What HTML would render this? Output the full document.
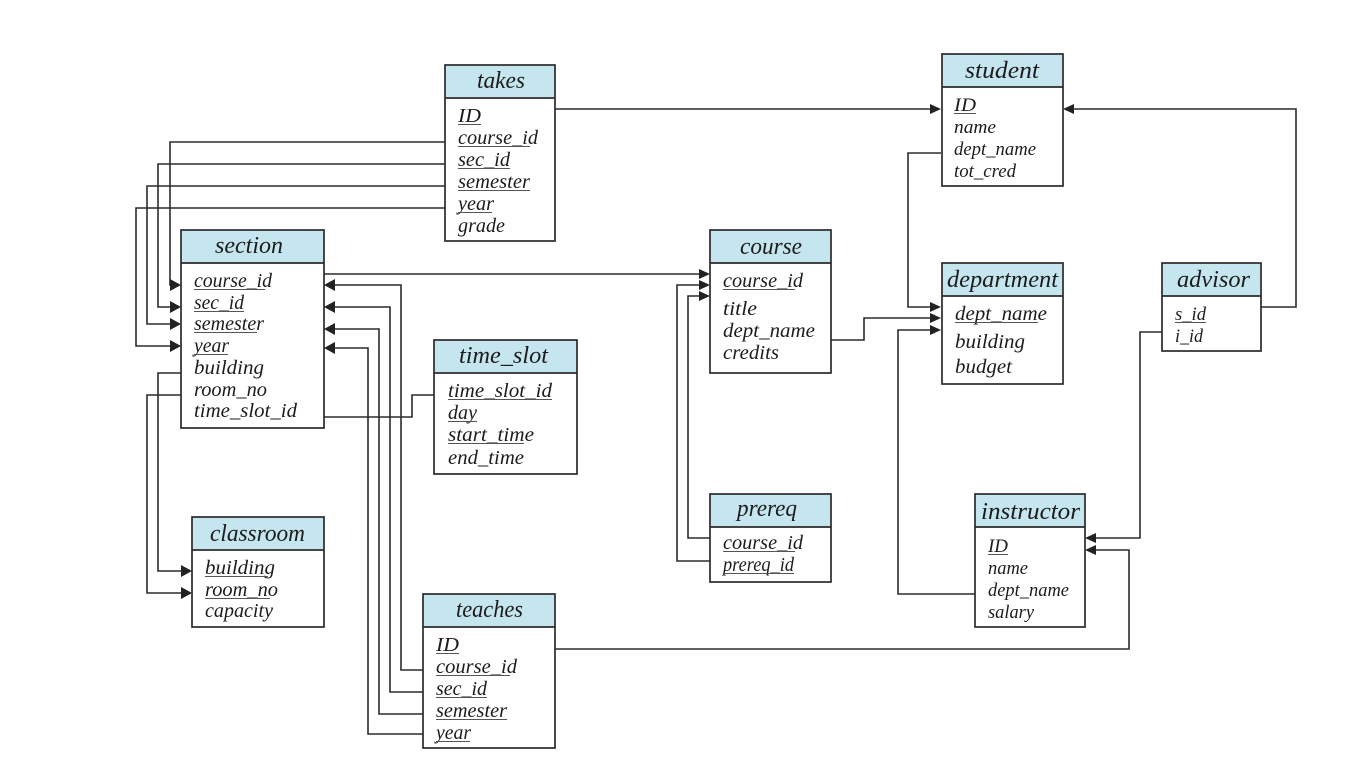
<!DOCTYPE html>
<html>
<head>
<meta charset="utf-8">
<style>
html,body{margin:0;padding:0;background:#fff;width:1348px;height:778px;overflow:hidden}
svg{display:block;filter:blur(0.35px)}
text{font-family:"Liberation Serif",serif;font-style:italic;fill:#1c1c1c}
.t{font-size:24px}
.a{font-size:20px}
.s{font-size:18.5px}
.h{fill:#c5e5ef}
.b{fill:none;stroke:#2b2b2b;stroke-width:1.7}
.l{fill:none;stroke:#2b2b2b;stroke-width:1.6}
.u{stroke:#555;stroke-width:1.1}
.p{fill:#222}
</style>
</head>
<body>
<svg width="1348" height="778" viewBox="0 0 1348 778" xmlns="http://www.w3.org/2000/svg">
<rect width="1348" height="778" fill="#fff"/>

<!-- connectors -->
<path class="l" d="M555 109H932"/>
<path class="l" d="M445 142H170V285H172"/>
<path class="l" d="M445 164H158V307H172"/>
<path class="l" d="M445 186H147V324H172"/>
<path class="l" d="M445 208H136V346H172"/>
<path class="l" d="M181 373H158V571H182"/>
<path class="l" d="M181 395H147V593H182"/>
<path class="l" d="M324 417H412V395H434"/>
<path class="l" d="M324 274H700"/>
<path class="l" d="M423 670H401V285H334"/>
<path class="l" d="M423 692H390V307H334"/>
<path class="l" d="M423 714H379V329H334"/>
<path class="l" d="M423 734H368V348H334"/>
<path class="l" d="M555 649H1129V550H1095"/>
<path class="l" d="M710 538H688V296H700"/>
<path class="l" d="M710 561H677V285H700"/>
<path class="l" d="M831 340H864V318H932"/>
<path class="l" d="M941 153H908V307H932"/>
<path class="l" d="M975 594H898V330H932"/>
<path class="l" d="M1261 307H1296V109H1073"/>
<path class="l" d="M1162 332H1140V538H1095"/>

<!-- arrowheads -->
<polygon class="p" points="930,104 941,109 930,114"/>
<polygon class="p" points="170,279 181,285 170,291"/>
<polygon class="p" points="170,301 181,307 170,313"/>
<polygon class="p" points="170,318 181,324 170,330"/>
<polygon class="p" points="170,340 181,346 170,352"/>
<polygon class="p" points="181,565 192,571 181,577"/>
<polygon class="p" points="181,587 192,593 181,599"/>
<polygon class="p" points="699,269 710,274 699,279"/>
<polygon class="p" points="699,280 710,285 699,290"/>
<polygon class="p" points="699,291 710,296 699,301"/>
<polygon class="p" points="335,279 324,285 335,291"/>
<polygon class="p" points="335,301 324,307 335,313"/>
<polygon class="p" points="335,323 324,329 335,335"/>
<polygon class="p" points="335,342 324,348 335,354"/>
<polygon class="p" points="930,302 941,307 930,312"/>
<polygon class="p" points="930,313 941,318 930,323"/>
<polygon class="p" points="930,325 941,330 930,335"/>
<polygon class="p" points="1074,104 1063,109 1074,114"/>
<polygon class="p" points="1096,533 1085,538 1096,543"/>
<polygon class="p" points="1096,545 1085,550 1096,555"/>

<!-- takes -->
<rect class="h" x="445" y="65" width="110" height="32"/>
<rect class="b" x="445" y="65" width="110" height="176"/><path class="b" d="M445 98H555"/>
<text class="t" x="477" y="88" textLength="48" lengthAdjust="spacingAndGlyphs">takes</text>
<text class="a" x="458" y="122" textLength="23" lengthAdjust="spacingAndGlyphs">ID</text><path class="u" d="M458 124.500H481"/>
<text class="a" x="458" y="144" textLength="80" lengthAdjust="spacingAndGlyphs">course_id</text><path class="u" d="M458 146.500H530"/>
<text class="a" x="458" y="166" textLength="52" lengthAdjust="spacingAndGlyphs">sec_id</text><path class="u" d="M458 168.500H510"/>
<text class="a" x="458" y="188" textLength="72" lengthAdjust="spacingAndGlyphs">semester</text><path class="u" d="M458 190.500H530"/>
<text class="a" x="458" y="210" textLength="36" lengthAdjust="spacingAndGlyphs">year</text><path class="u" d="M458 212.500H492"/>
<text class="a" x="458" y="232" textLength="47" lengthAdjust="spacingAndGlyphs">grade</text>

<!-- section -->
<rect class="h" x="181" y="230" width="143" height="33"/>
<rect class="b" x="181" y="230" width="143" height="198"/><path class="b" d="M181 263H324"/>
<text class="t" x="215" y="253" textLength="68" lengthAdjust="spacingAndGlyphs">section</text>
<text class="a" x="194" y="287" textLength="78" lengthAdjust="spacingAndGlyphs">course_id</text><path class="u" d="M194 289.500H265"/>
<text class="a" x="194" y="309" textLength="50" lengthAdjust="spacingAndGlyphs">sec_id</text><path class="u" d="M194 311.500H244"/>
<text class="a" x="194" y="330" textLength="70" lengthAdjust="spacingAndGlyphs">semester</text><path class="u" d="M194 332.500H257"/>
<text class="a" x="194" y="352" textLength="35" lengthAdjust="spacingAndGlyphs">year</text><path class="u" d="M194 354.500H228"/>
<text class="a" x="194" y="374" textLength="70" lengthAdjust="spacingAndGlyphs">building</text>
<text class="a" x="194" y="396" textLength="73" lengthAdjust="spacingAndGlyphs">room_no</text>
<text class="a" x="194" y="417" textLength="103" lengthAdjust="spacingAndGlyphs">time_slot_id</text>

<!-- time_slot -->
<rect class="h" x="434" y="340" width="143" height="33"/>
<rect class="b" x="434" y="340" width="143" height="134"/><path class="b" d="M434 373H577"/>
<text class="t" x="459" y="363" textLength="89" lengthAdjust="spacingAndGlyphs">time_slot</text>
<text class="a" x="448" y="397" textLength="104" lengthAdjust="spacingAndGlyphs">time_slot_id</text><path class="u" d="M448 399.500H552"/>
<text class="a" x="448" y="419" textLength="29" lengthAdjust="spacingAndGlyphs">day</text><path class="u" d="M448 421.500H477"/>
<text class="a" x="448" y="441" textLength="86" lengthAdjust="spacingAndGlyphs">start_time</text><path class="u" d="M448 443.500H524"/>
<text class="a" x="448" y="464" textLength="76" lengthAdjust="spacingAndGlyphs">end_time</text>

<!-- classroom -->
<rect class="h" x="192" y="517" width="132" height="32"/>
<rect class="b" x="192" y="517" width="132" height="110"/><path class="b" d="M192 550H324"/>
<text class="t" x="210" y="541" textLength="95" lengthAdjust="spacingAndGlyphs">classroom</text>
<text class="a" x="205" y="574" textLength="70" lengthAdjust="spacingAndGlyphs">building</text><path class="u" d="M205 576.500H268"/>
<text class="a" x="205" y="596" textLength="73" lengthAdjust="spacingAndGlyphs">room_no</text><path class="u" d="M205 598.500H270"/>
<text class="a" x="205" y="617" textLength="68" lengthAdjust="spacingAndGlyphs">capacity</text>

<!-- teaches -->
<rect class="h" x="423" y="594" width="132" height="33"/>
<rect class="b" x="423" y="594" width="132" height="154"/><path class="b" d="M423 627H555"/>
<text class="t" x="456" y="617" textLength="67" lengthAdjust="spacingAndGlyphs">teaches</text>
<text class="a" x="436" y="651" textLength="23" lengthAdjust="spacingAndGlyphs">ID</text><path class="u" d="M436 653.500H459"/>
<text class="a" x="436" y="673" textLength="81" lengthAdjust="spacingAndGlyphs">course_id</text><path class="u" d="M436 675.500H510"/>
<text class="a" x="436" y="695" textLength="51" lengthAdjust="spacingAndGlyphs">sec_id</text><path class="u" d="M436 697.500H487"/>
<text class="a" x="436" y="717" textLength="71" lengthAdjust="spacingAndGlyphs">semester</text><path class="u" d="M436 719.500H507"/>
<text class="a" x="436" y="739" textLength="35" lengthAdjust="spacingAndGlyphs">year</text><path class="u" d="M436 741.500H470"/>

<!-- student -->
<rect class="h" x="942" y="54" width="121" height="33"/>
<rect class="b" x="942" y="54" width="121" height="132"/><path class="b" d="M942 87H1063"/>
<text class="t" x="965" y="78" textLength="74" lengthAdjust="spacingAndGlyphs">student</text>
<text class="s" x="954" y="111" textLength="22" lengthAdjust="spacingAndGlyphs">ID</text><path class="u" d="M954 113.500H976"/>
<text class="s" x="954" y="133" textLength="42" lengthAdjust="spacingAndGlyphs">name</text>
<text class="s" x="954" y="155" textLength="82" lengthAdjust="spacingAndGlyphs">dept_name</text>
<text class="s" x="954" y="177" textLength="62" lengthAdjust="spacingAndGlyphs">tot_cred</text>

<!-- course -->
<rect class="h" x="710" y="230" width="121" height="33"/>
<rect class="b" x="710" y="230" width="121" height="143"/><path class="b" d="M710 263H831"/>
<text class="t" x="740" y="254" textLength="62" lengthAdjust="spacingAndGlyphs">course</text>
<text class="a" x="723" y="287" textLength="80" lengthAdjust="spacingAndGlyphs">course_id</text><path class="u" d="M723 289.500H795"/>
<text class="a" x="723" y="315" textLength="34" lengthAdjust="spacingAndGlyphs">title</text>
<text class="a" x="723" y="337" textLength="92" lengthAdjust="spacingAndGlyphs">dept_name</text>
<text class="a" x="723" y="359" textLength="56" lengthAdjust="spacingAndGlyphs">credits</text>

<!-- department -->
<rect class="h" x="942" y="263" width="121" height="33"/>
<rect class="b" x="942" y="263" width="121" height="121"/><path class="b" d="M942 296H1063"/>
<text class="t" x="947" y="287" textLength="111" lengthAdjust="spacingAndGlyphs">department</text>
<text class="a" x="955" y="320" textLength="92" lengthAdjust="spacingAndGlyphs">dept_name</text><path class="u" d="M955 322.500H1038"/>
<text class="a" x="955" y="348" textLength="70" lengthAdjust="spacingAndGlyphs">building</text>
<text class="a" x="955" y="373" textLength="57" lengthAdjust="spacingAndGlyphs">budget</text>

<!-- advisor -->
<rect class="h" x="1162" y="263" width="99" height="33"/>
<rect class="b" x="1162" y="263" width="99" height="88"/><path class="b" d="M1162 296H1261"/>
<text class="t" x="1177" y="287" textLength="73" lengthAdjust="spacingAndGlyphs">advisor</text>
<text class="s" x="1175" y="320" textLength="31" lengthAdjust="spacingAndGlyphs">s_id</text><path class="u" d="M1175 322.500H1206"/>
<text class="s" x="1175" y="342" textLength="28" lengthAdjust="spacingAndGlyphs">i_id</text>

<!-- prereq -->
<rect class="h" x="710" y="494" width="121" height="33"/>
<rect class="b" x="710" y="494" width="121" height="88"/><path class="b" d="M710 527H831"/>
<text class="t" x="737" y="516" textLength="60" lengthAdjust="spacingAndGlyphs">prereq</text>
<text class="a" x="723" y="549" textLength="80" lengthAdjust="spacingAndGlyphs">course_id</text><path class="u" d="M723 551.500H795"/>
<text class="a" x="723" y="571" textLength="71" lengthAdjust="spacingAndGlyphs">prereq_id</text><path class="u" d="M723 573.500H794"/>

<!-- instructor -->
<rect class="h" x="975" y="494" width="110" height="33"/>
<rect class="b" x="975" y="494" width="110" height="133"/><path class="b" d="M975 527H1085"/>
<text class="t" x="981" y="519" textLength="99" lengthAdjust="spacingAndGlyphs">instructor</text>
<text class="s" x="988" y="552" textLength="20" lengthAdjust="spacingAndGlyphs">ID</text><path class="u" d="M988 554.500H1008"/>
<text class="s" x="988" y="574" textLength="40" lengthAdjust="spacingAndGlyphs">name</text>
<text class="s" x="988" y="596" textLength="81" lengthAdjust="spacingAndGlyphs">dept_name</text>
<text class="s" x="988" y="618" textLength="46" lengthAdjust="spacingAndGlyphs">salary</text>
</svg>
</body>
</html>
